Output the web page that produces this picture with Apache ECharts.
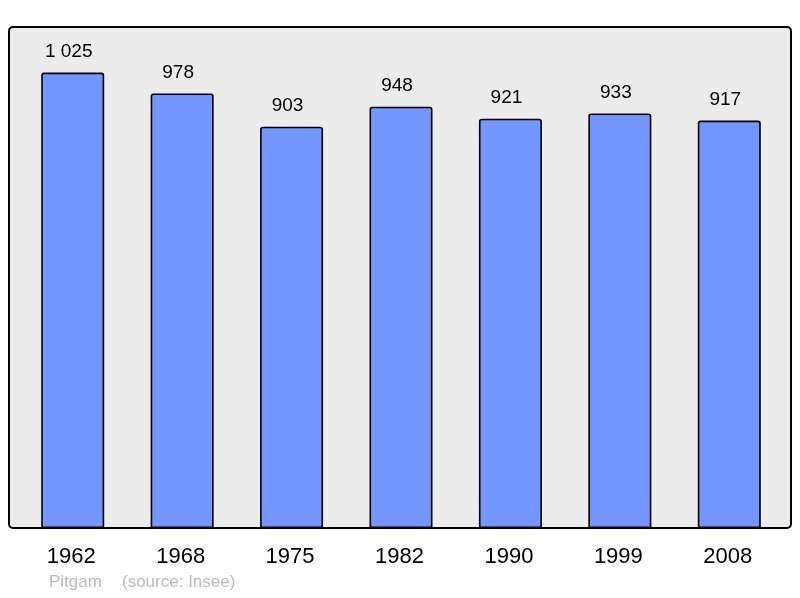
<!DOCTYPE html>
<html>
<head>
<meta charset="utf-8">
<script src="https://cdn.jsdelivr.net/npm/echarts@6/dist/echarts.min.js"></script>
<style>
  html, body { margin: 0; padding: 0; background: #fff; }
  #chart { width: 800px; height: 598px; }
</style>
</head>
<body>
<div id="chart"></div>
<script>
const years = ['1962', '1968', '1975', '1982', '1990', '1999', '2008']
const population = [1025, 978, 903, 948, 921, 933, 917]
const yMax = 1127.5

const fmt = v => String(v).replace(/\B(?=(\d{3})+(?!\d))/g, ' ')

const myChart = echarts.init(document.getElementById('chart'))

const option = {
  animation: false,
  textStyle: { fontFamily: 'Liberation Sans, Arial, sans-serif' },
  graphic: [
    {
      type: 'rect',
      z: -10,
      shape: { x: 9, y: 27, width: 782, height: 501, r: 4 },
      style: { fill: '#ececec', stroke: '#000', lineWidth: 2 }
    },
    {
      type: 'text',
      left: 49,
      top: 574,
      style: { text: 'Pitgam', fill: '#bbbbbb', font: '17px Liberation Sans, Arial, sans-serif' }
    },
    {
      type: 'text',
      left: 122,
      top: 574,
      style: { text: '(source: Insee)', fill: '#bbbbbb', font: '17px Liberation Sans, Arial, sans-serif' }
    }
  ],
  grid: {
    left: 18,
    right: 16,
    top: 27,
    bottom: 70,
    containLabel: false
  },
  xAxis: {
    type: 'category',
    data: years,
    axisLine: { show: false },
    axisTick: { show: false },
    axisLabel: {
      color: '#000',
      fontSize: 22,
      margin: 18,
      padding: [0, 3, 0, 0]
    }
  },
  yAxis: {
    type: 'value',
    min: 0,
    max: yMax,
    show: false,
    splitLine: { show: false }
  },
  series: [
    {
      type: 'bar',
      data: population,
      barWidth: 63,
      itemStyle: {
        color: '#7396ff',
        borderColor: '#000',
        borderWidth: 1.6,
        borderRadius: [2, 2, 0, 0]
      },
      label: {
        show: true,
        position: 'top',
        distance: 11,
        offset: [-4, 0],
        color: '#000',
        fontSize: 19,
        formatter: p => fmt(p.value)
      }
    }
  ]
}

myChart.setOption(option)
</script>
</body>
</html>
